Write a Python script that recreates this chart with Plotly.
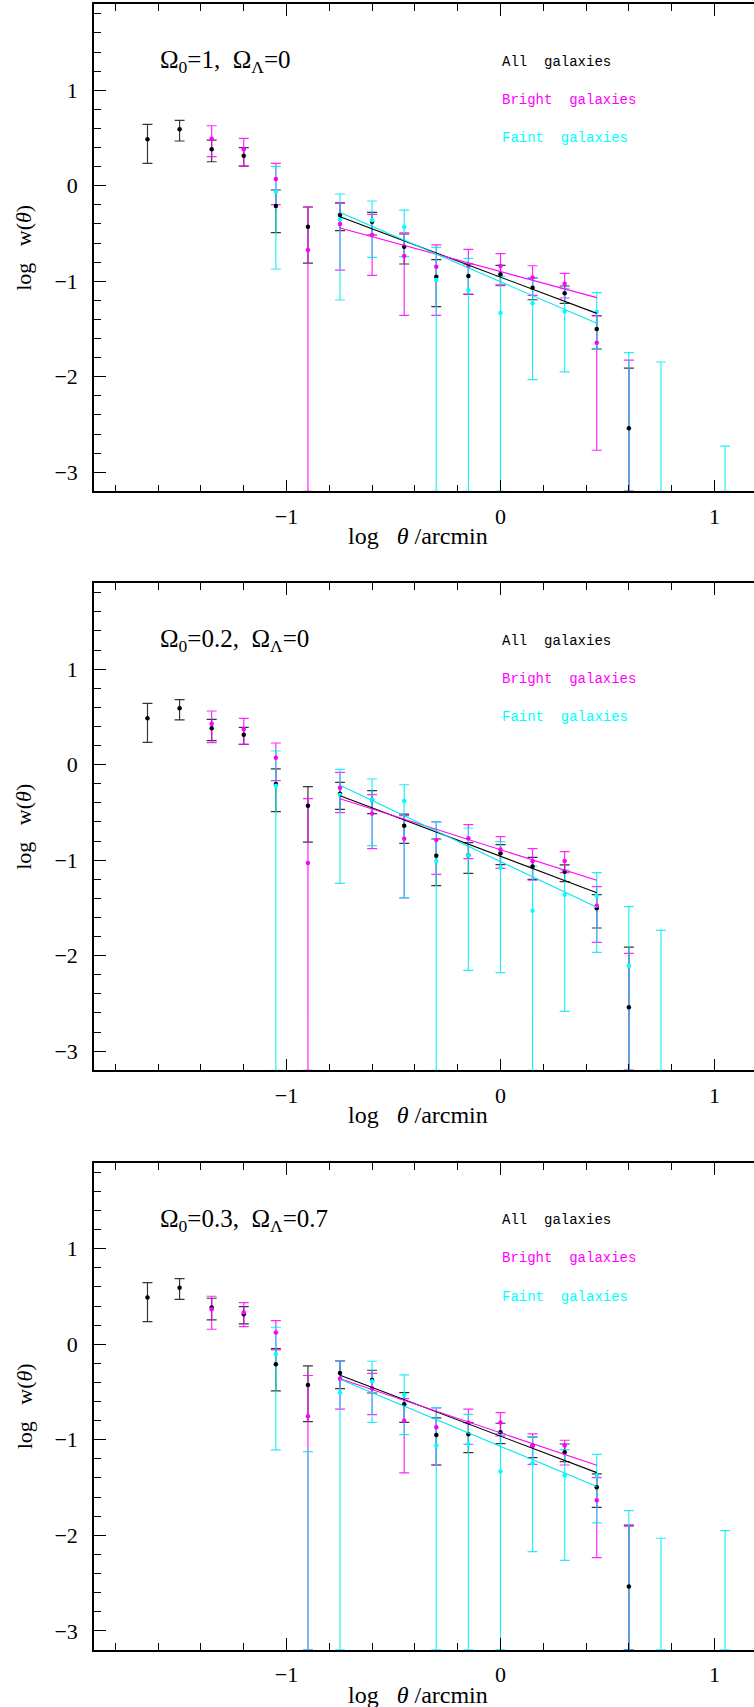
import plotly.graph_objects as go

# ---------------- data ----------------
N = None
L = -9.0  # value / bar end below the bottom of the plotted range

log_theta = [-1.65, -1.5, -1.35, -1.2, -1.05, -0.9, -0.75, -0.6, -0.45, -0.3,
             -0.15, 0.0, 0.15, 0.3, 0.45, 0.6, 0.75, 0.9, 1.05]
fit_x = [-0.75, 0.45]

titles = ["Ω<sub>0</sub>=1,\u00a0\u00a0Ω<sub>Λ</sub>=0",
          "Ω<sub>0</sub>=0.2,\u00a0\u00a0Ω<sub>Λ</sub>=0",
          "Ω<sub>0</sub>=0.3,\u00a0\u00a0Ω<sub>Λ</sub>=0.7"]
series_names = ["All\u00a0\u00a0galaxies", "Bright\u00a0\u00a0galaxies", "Faint\u00a0\u00a0galaxies"]

# panel 1 : Omega0=1, OmegaL=0
p1_all_val = [0.487, 0.59, 0.381, 0.314, -0.213, -0.429, -0.307, -0.377, -0.638, -0.953, -0.946, -0.928, -1.068, -1.127, -1.50, -2.54, N, N, N]
p1_all_top = [0.643, 0.685, 0.478, 0.398, -0.045, -0.223, -0.18, -0.28, -0.506, -0.775, -0.82, -0.834, -0.967, -1.05, -1.36, -1.91, N, N, N]
p1_all_bot = [0.234, 0.468, 0.251, 0.206, -0.492, -0.81, -0.47, -0.516, -0.82, -1.267, -1.137, -1.04, -1.194, -1.232, -1.71, L, N, N, N]
p1_bri_val = [N, N, 0.492, 0.381, 0.07, -0.673, -0.40, -0.516, -0.736, -0.848, -0.84, -0.84, -0.96, -1.026, -1.644, L, N, N, N]
p1_bri_top = [N, N, 0.628, 0.496, 0.234, -0.223, -0.18, -0.30, -0.495, -0.62, -0.666, -0.712, -0.838, -0.918, -1.36, -1.826, N, N, N]
p1_bri_bot = [N, N, 0.304, 0.206, -0.199, L, -0.883, -0.94, -1.357, -1.357, -1.137, -1.047, -1.148, -1.176, -2.77, L, N, N, N]
p1_fai_val = [N, N, N, N, -0.063, N, -0.352, -0.363, -0.433, -0.988, -1.096, -1.333, -1.232, -1.316, -1.319, L, L, N, L]
p1_fai_top = [N, N, N, N, 0.203, N, -0.087, -0.16, -0.255, -0.646, -0.76, -0.946, -0.97, -1.075, -1.12, -1.748, -1.846, N, -2.726]
p1_fai_bot = [N, N, N, N, -0.872, N, -1.197, -0.75, -0.743, L, L, L, -2.03, -1.95, -1.71, L, L, N, L]
p1_fit_all = [-0.325, -1.337]
p1_fit_bri = [-0.443, -1.172]
p1_fit_fai = [-0.28, -1.441]

# panel 2 : Omega0=0.2, OmegaL=0
p2_all_val = [0.485, 0.59, 0.38, 0.314, -0.202, -0.429, -0.304, -0.37, -0.639, -0.953, -0.949, -0.928, -1.065, -1.12, -1.504, -2.54, N, N, N]
p2_all_top = [0.642, 0.68, 0.475, 0.39, -0.045, -0.23, -0.185, -0.272, -0.517, -0.778, -0.817, -0.838, -0.97, -1.05, -1.36, -1.91, N, N, N]
p2_all_bot = [0.234, 0.468, 0.251, 0.213, -0.492, -0.81, -0.468, -0.513, -0.824, -1.267, -1.138, -1.047, -1.2, -1.225, -1.71, L, N, N, N]
p2_bri_val = [N, N, 0.429, 0.373, 0.073, -1.03, -0.241, -0.51, -0.775, -0.789, -0.771, -0.887, -1.012, -1.009, -1.476, L, N, N, N]
p2_bri_top = [N, N, 0.562, 0.485, 0.227, -0.356, -0.08, -0.314, -0.534, -0.6, -0.628, -0.754, -0.88, -0.911, -1.277, -1.976, N, N, N]
p2_bri_bot = [N, N, 0.23, 0.213, -0.168, L, -0.503, -0.88, -1.396, -1.148, -0.984, -1.086, -1.208, -1.131, -1.86, L, N, N, N]
p2_fai_val = [N, N, N, N, -0.22, N, -0.318, -0.37, -0.38, -1.009, -0.949, -1.079, -1.529, -1.361, -1.372, -2.106, L, N, N]
p2_fai_top = [N, N, N, N, 0.143, N, -0.05, -0.15, -0.21, -0.6, -0.663, -0.806, -1.061, -1.103, -1.131, -1.487, -1.735, N, N]
p2_fai_bot = [N, N, N, N, L, N, -1.243, -0.848, -1.393, L, -2.154, -2.178, L, -2.583, -1.965, L, L, N, N]
p2_fit_all = [-0.325, -1.34]
p2_fit_bri = [-0.356, -1.211]
p2_fit_fai = [-0.216, -1.494]

# panel 3 : Omega0=0.3, OmegaL=0.7
p3_all_val = [0.489, 0.593, 0.384, 0.314, -0.209, -0.426, -0.30, -0.373, -0.628, -0.949, -0.942, -0.921, -1.061, -1.131, -1.497, -2.537, N, N, N]
p3_all_top = [0.646, 0.688, 0.482, 0.394, -0.045, -0.227, -0.175, -0.272, -0.506, -0.771, -0.82, -0.827, -0.97, -1.044, -1.358, -1.902, N, N, N]
p3_all_bot = [0.237, 0.471, 0.255, 0.213, -0.489, -0.81, -0.464, -0.51, -0.817, -1.264, -1.134, -1.04, -1.187, -1.229, -1.707, L, N, N, N]
p3_bri_val = [N, N, 0.366, 0.332, 0.122, -0.754, -0.36, -0.464, -0.8, -0.869, -0.82, -0.82, -1.065, -1.061, -1.633, L, N, N, N]
p3_bri_top = [N, N, 0.503, 0.436, 0.248, -0.327, -0.175, -0.304, -0.569, -0.667, -0.68, -0.716, -0.939, -1.005, -1.396, -1.892, N, N, N]
p3_bri_bot = [N, N, 0.157, 0.185, -0.059, L, -0.68, -0.736, -1.347, -1.264, -1.047, -0.96, -1.257, -1.264, -2.234, L, N, N, N]
p3_fai_val = [N, N, N, N, -0.101, L, -0.506, -0.387, -0.53, -1.061, -1.044, -1.333, -1.246, -1.375, -1.375, L, L, N, L]
p3_fai_top = [N, N, N, N, 0.178, -1.124, -0.175, -0.178, -0.321, -0.663, -0.733, -0.935, -0.967, -1.103, -1.152, -1.742, -2.031, N, -1.951]
p3_fai_bot = [N, N, N, N, -1.106, L, L, -0.817, -0.946, L, L, L, -2.171, -2.262, -1.871, L, L, N, L]
p3_fit_all = [-0.325, -1.344]
p3_fit_bri = [-0.36, -1.267]
p3_fit_fai = [-0.366, -1.49]

panels = [
    [(p1_all_val, p1_all_top, p1_all_bot, p1_fit_all),
     (p1_bri_val, p1_bri_top, p1_bri_bot, p1_fit_bri),
     (p1_fai_val, p1_fai_top, p1_fai_bot, p1_fit_fai)],
    [(p2_all_val, p2_all_top, p2_all_bot, p2_fit_all),
     (p2_bri_val, p2_bri_top, p2_bri_bot, p2_fit_bri),
     (p2_fai_val, p2_fai_top, p2_fai_bot, p2_fit_fai)],
    [(p3_all_val, p3_all_top, p3_all_bot, p3_fit_all),
     (p3_bri_val, p3_bri_top, p3_bri_bot, p3_fit_bri),
     (p3_fai_val, p3_fai_top, p3_fai_bot, p3_fit_fai)],
]

# ---------------- style / layout ----------------
W, H = 754, 1707
XR = [-1.9, 1.185]
YR = [-3.2, 1.9]
panel_px = [(4.25, 491.3), (583.2, 1070.3), (1162.8, 1649.9)]  # top, bottom in px
left_px = 94

mark_col = ["#000000", "#ff00ff", "#00ffff"]
bar_col = ["rgba(20,20,20,0.85)", "rgba(255,0,255,0.85)", "rgba(0,235,245,0.85)"]
line_col = ["#000000", "#ff00ff", "#00e8f0"]
label_col = ["#000000", "#ff00ff", "#00ffff"]
legend_y = [1.3, 0.9, 0.5]

SERIF = "Liberation Serif"
MONO = "Liberation Mono"

fig = go.Figure()

for p, series in enumerate(panels):
    xa = "x" if p == 0 else f"x{p+1}"
    ya = "y" if p == 0 else f"y{p+1}"
    for s, (val, top, bot, fit) in enumerate(series):
        # error bars (drawn from lower end, clipped at the axis, up to upper end)
        ex, ey, eplus = [], [], []
        for xv, t, b in zip(log_theta, top, bot):
            if t is None:
                continue
            b2 = max(b, YR[0])
            ex.append(xv)
            ey.append(b2)
            eplus.append(t - b2)
        fig.add_trace(go.Scatter(
            x=ex, y=ey, xaxis=xa, yaxis=ya, mode="markers",
            marker=dict(size=2, opacity=0, color=mark_col[s]),
            error_y=dict(type="data", symmetric=False, array=eplus,
                         arrayminus=[0] * len(eplus), color=bar_col[s],
                         thickness=1.2, width=5),
            showlegend=False, hoverinfo="skip"))
    for s, (val, top, bot, fit) in enumerate(series):
        px_, py_ = [], []
        for xv, v in zip(log_theta, val):
            if v is None or v < YR[0]:
                continue
            px_.append(xv)
            py_.append(v)
        fig.add_trace(go.Scatter(
            x=px_, y=py_, xaxis=xa, yaxis=ya, mode="markers",
            marker=dict(size=4.5, color=mark_col[s], line=dict(width=0)),
            showlegend=False))
    for s, (val, top, bot, fit) in enumerate(series):
        fig.add_trace(go.Scatter(
            x=fit_x, y=fit, xaxis=xa, yaxis=ya, mode="lines",
            line=dict(color=line_col[s], width=1.1),
            showlegend=False, hoverinfo="skip"))

layout = dict(width=W, height=H, margin=dict(l=0, r=0, t=0, b=0),
              paper_bgcolor="white", plot_bgcolor="white", showlegend=False)

annotations = []
for p, (tp, bp) in enumerate(panel_px):
    ydom = [1 - bp / H, 1 - tp / H]
    xkey = "xaxis" if p == 0 else f"xaxis{p+1}"
    ykey = "yaxis" if p == 0 else f"yaxis{p+1}"
    yname = "y" if p == 0 else f"y{p+1}"
    xname = "x" if p == 0 else f"x{p+1}"
    layout[xkey] = dict(
        domain=[left_px / W, 1.0], range=XR, anchor=yname,
        tickmode="linear", tick0=0, dtick=1, ticks="inside", ticklen=12,
        tickwidth=1.2, tickcolor="black", showline=True, linecolor="black",
        linewidth=1.6, mirror="ticks", showgrid=False, zeroline=False,
        tickfont=dict(family=SERIF, size=22, color="black"),
        ticklabelstandoff=4,
        minor=dict(tickmode="linear", tick0=0, dtick=0.2, ticks="inside",
                   ticklen=7, tickwidth=1.1, tickcolor="black", showgrid=False))
    layout[ykey] = dict(
        domain=ydom, range=YR, anchor=xname,
        tickmode="linear", tick0=0, dtick=1, ticks="inside", ticklen=12,
        tickwidth=1.2, tickcolor="black", showline=True, linecolor="black",
        linewidth=1.6, mirror=False, showgrid=False, zeroline=False,
        tickfont=dict(family=SERIF, size=22, color="black"),
        ticklabelstandoff=10,
        minor=dict(tickmode="linear", tick0=0, dtick=0.2, ticks="inside",
                   ticklen=7, tickwidth=1.1, tickcolor="black", showgrid=False))
    # right-hand ticks (frame edge lies just outside the page)
    rkey = f"yaxis{p+4}"
    layout[rkey] = dict(
        overlaying=yname, side="right", anchor=xname, range=YR,
        tickmode="linear", tick0=0, dtick=1, ticks="inside", ticklen=10,
        tickwidth=1.2, tickcolor="black", showline=False, showgrid=False,
        zeroline=False, showticklabels=False,
        minor=dict(tickmode="linear", tick0=0, dtick=0.2, ticks="inside",
                   ticklen=5, tickwidth=1.1, tickcolor="black", showgrid=False))

    # panel title
    annotations.append(dict(xref=xname, yref=yname, x=-1.6, y=1.3,
                            xanchor="left", yanchor="middle", showarrow=False,
                            text=titles[p],
                            font=dict(family=SERIF, size=25, color="black")))
    # labels for the three samples
    for s in range(3):
        annotations.append(dict(xref=xname, yref=yname, x=0.0, y=legend_y[s],
                                xanchor="left", yanchor="middle", showarrow=False,
                                text=series_names[s],
                                font=dict(family=MONO, size=14, color=label_col[s])))
    # axis titles
    annotations.append(dict(xref="paper", yref="paper", x=418 / W,
                            y=1 - (bp + 45) / H, xanchor="center", yanchor="middle",
                            showarrow=False,
                            text="log\u00a0\u00a0\u00a0<i>θ</i>\u00a0/arcmin",
                            font=dict(family=SERIF, size=24, color="black")))
    annotations.append(dict(xref="paper", yref="paper", x=24 / W,
                            y=1 - (tp + bp) / 2 / H, xanchor="center", yanchor="middle",
                            showarrow=False, textangle=-90,
                            text="log\u00a0\u00a0\u00a0w(<i>θ</i>)",
                            font=dict(family=SERIF, size=22, color="black")))

layout["annotations"] = annotations
fig.update_layout(**layout)

fig.write_html("out.html")
